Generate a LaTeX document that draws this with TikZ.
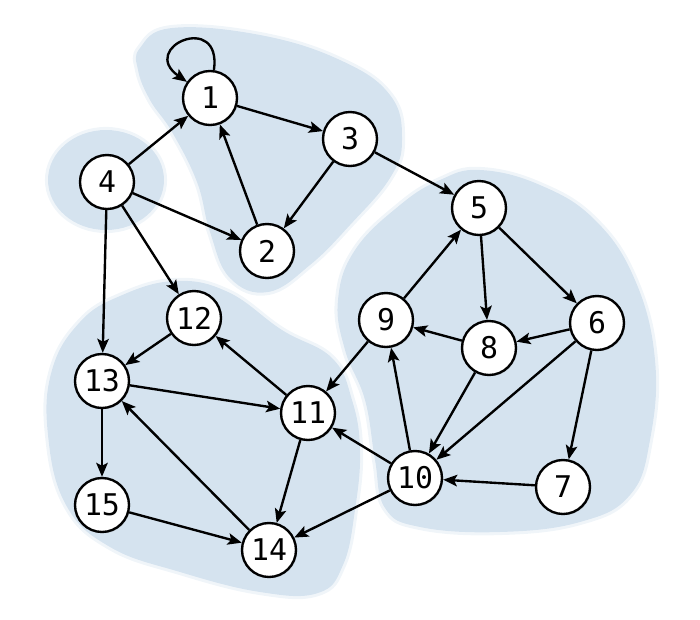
\documentclass[tikz,border=0pt]{standalone}
\usepackage{fontspec}
\newfontfamily\nodefont{DejaVu Sans Mono}
\usetikzlibrary{arrows.meta,shadows}
\definecolor{blobblue}{RGB}{213,227,239}
\begin{document}
\begin{tikzpicture}[x=0.02cm,y=0.02cm,
  vtx/.style={circle,draw=black,fill=white,line width=1.35pt,minimum size=1.08cm,inner sep=0pt,
    font=\nodefont\fontsize{17}{17}\selectfont,
    drop shadow={shadow xshift=0.7pt,shadow yshift=-0.7pt,opacity=0.22}},
  arc/.style={-{Stealth[length=2.8mm,width=2.3mm,inset=0.6mm]},line width=1.35pt,black},
  blob/.style={fill=blobblue,draw=blobblue,draw opacity=0.35,line width=3.5pt,line join=round}]
\useasboundingbox (0,0) rectangle (700,-619);
% background blobs
\path[blob] plot[smooth cycle,tension=0.7] coordinates {
  (140,-48) (172,-28) (260,-35) (340,-60) (390,-95) (402,-140) (390,-178) (350,-225)
  (310,-265) (268,-292) (230,-278) (210,-232) (197,-182) (172,-132) (150,-100) (138,-70)};
\path[blob] (106,-180) ellipse [x radius=58,y radius=50];
\path[blob] plot[smooth cycle,tension=0.7] coordinates {
  (80,-322) (120,-296) (175,-281) (228,-292) (282,-330) (332,-358) (352,-400) (360,-450)
  (355,-510) (343,-565) (318,-593) (260,-592) (180,-572) (110,-547) (66,-505) (48,-435) (52,-370)};
\path[blob] plot[smooth cycle,tension=0.7] coordinates {
  (480,-170) (540,-185) (595,-220) (635,-280) (655,-360) (650,-440) (630,-495) (580,-522)
  (500,-532) (420,-527) (385,-508) (375,-460) (365,-400) (345,-350) (338,-300) (355,-250)
  (400,-205) (440,-180)};
% nodes
\node[vtx] (n1) at (210,-98) {1};
\node[vtx] (n2) at (267,-251) {2};
\node[vtx] (n3) at (350,-139) {3};
\node[vtx] (n4) at (107,-182) {4};
\node[vtx] (n5) at (479,-208) {5};
\node[vtx] (n6) at (597,-323) {6};
\node[vtx] (n7) at (563,-487) {7};
\node[vtx] (n8) at (489,-348) {8};
\node[vtx] (n9) at (386,-320) {9};
\node[vtx] (n10) at (415,-478) {10};
\node[vtx] (n11) at (308,-413) {11};
\node[vtx] (n12) at (194,-318) {12};
\node[vtx] (n13) at (102,-381) {13};
\node[vtx] (n14) at (269,-550) {14};
\node[vtx] (n15) at (102,-505) {15};
% edges
\path[arc] (n1) edge[out=82,in=145,min distance=1.2cm] (n1);
\draw[arc] (n1) -- (n3);
\draw[arc] (n3) -- (n2);
\draw[arc] (n2) -- (n1);
\draw[arc] (n4) -- (n1);
\draw[arc] (n4) -- (n2);
\draw[arc] (n4) -- (n12);
\draw[arc] (n4) -- (n13);
\draw[arc] (n3) -- (n5);
\draw[arc] (n5) -- (n8);
\draw[arc] (n5) -- (n6);
\draw[arc] (n9) -- (n5);
\draw[arc] (n8) -- (n9);
\draw[arc] (n6) -- (n8);
\draw[arc] (n6) -- (n7);
\draw[arc] (n8) -- (n10);
\draw[arc] (n6) -- (n10);
\draw[arc] (n10) -- (n9);
\draw[arc] (n7) -- (n10);
\draw[arc] (n10) -- (n11);
\draw[arc] (n10) -- (n14);
\draw[arc] (n9) -- (n11);
\draw[arc] (n11) -- (n12);
\draw[arc] (n12) -- (n13);
\draw[arc] (n13) -- (n11);
\draw[arc] (n13) -- (n15);
\draw[arc] (n15) -- (n14);
\draw[arc] (n14) -- (n13);
\draw[arc] (n11) -- (n14);
\end{tikzpicture}
\end{document}
